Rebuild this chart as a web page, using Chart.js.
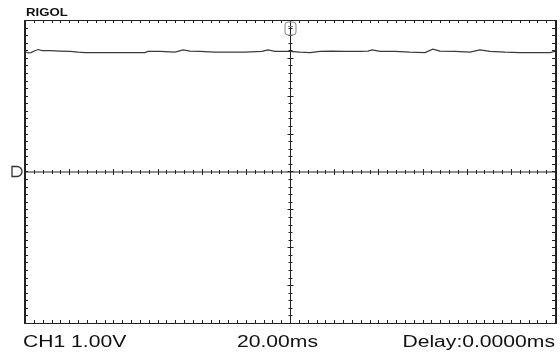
<!DOCTYPE html>
<html>
<head>
<meta charset="utf-8">
<script src="https://cdn.jsdelivr.net/npm/chart.js@4"></script>
<style>
  body { margin: 0; background: #fff; }
</style>
</head>
<body>
<canvas id="scope" width="560" height="359"></canvas>
<script>
// Trace: time in ms, voltage in V
const times = [-120, -118.6, -117.3, -115.5, -114.1, -112.3, -108.7, -104.1, -99.6, -96, -92.8, -86, -79.2, -72.4, -65.7, -64.3, -58.9, -52.1, -48.4, -45.3, -40.8, -34, -27.2, -20.4, -12.7, -10, -6.8, 0, 4.5, 9.1, 13.6, 19, 24.9, 31.7, 35.3, 37.1, 40.8, 47.5, 54.3, 61.1, 64.7, 67.9, 74.7, 81.5, 86, 90.6, 97.4, 104.1, 110.9, 117.7, 120];
const volts = [3.17, 3.13, 3.14, 3.19, 3.22, 3.19, 3.19, 3.18, 3.17, 3.15, 3.14, 3.14, 3.14, 3.14, 3.14, 3.17, 3.17, 3.15, 3.21, 3.18, 3.17, 3.15, 3.15, 3.15, 3.17, 3.21, 3.17, 3.17, 3.15, 3.14, 3.17, 3.18, 3.17, 3.17, 3.18, 3.21, 3.17, 3.17, 3.15, 3.14, 3.23, 3.18, 3.17, 3.15, 3.21, 3.17, 3.15, 3.14, 3.14, 3.14, 3.17];

// Screen: 12 x 8 divisions, 20ms/div and 1V/div
const timeRange = [-120, 120];
const voltRange = [-4, 4];
const minorTime = 4;   // 1/5 division
const minorVolt = 0.2;

// Labels on the scope screen
const brand = 'RIGOL';
const chLabel = 'CH1 1.00V';
const timebaseLabel = '20.00ms';
const delayLabel = 'Delay:0.0000ms';

let points = times.map((t, i) => ({ x: t, y: volts[i] }));

// draws text stretched sideways like the screenshot
let wideText = (ctx, text, x, y, align) => {
    const sx = 1.32;
    ctx.save();
    ctx.translate(x, y);
    ctx.scale(sx, 1);
    ctx.textAlign = align;
    ctx.fillText(text, 0, 0);
    ctx.restore();
};

const scopeScreen = {
    id: 'scopeScreen',
    beforeDatasetsDraw(chart) {
        const ctx = chart.ctx;
        const a = chart.chartArea;
        const xs = chart.scales.x;
        const ys = chart.scales.y;
        const x0 = xs.getPixelForValue(0);
        const y0 = ys.getPixelForValue(0);

        ctx.save();
        ctx.strokeStyle = '#222';
        ctx.lineWidth = 1;

        // center cross
        ctx.beginPath();
        ctx.moveTo(a.left, y0 + 0.5);
        ctx.lineTo(a.right, y0 + 0.5);
        ctx.moveTo(x0 + 0.5, a.top);
        ctx.lineTo(x0 + 0.5, a.bottom);
        ctx.stroke();

        // ticks along the border and the cross
        ctx.beginPath();
        for (let t = timeRange[0] + minorTime; t < timeRange[1]; t += minorTime) {
            const px = Math.round(xs.getPixelForValue(t)) + 0.5;
            const major = Math.abs(t % 20) < 0.01;
            ctx.moveTo(px, a.top);
            ctx.lineTo(px, a.top + 3);
            ctx.moveTo(px, a.bottom);
            ctx.lineTo(px, a.bottom - 3);
            const h = major ? 3 : 2;
            ctx.moveTo(px, y0 - h + 0.5);
            ctx.lineTo(px, y0 + h + 0.5);
        }
        for (let v = voltRange[0] + minorVolt; v < voltRange[1] - 0.01; v += minorVolt) {
            const py = Math.round(ys.getPixelForValue(v)) + 0.5;
            const major = Math.abs(Math.round(v * 5) % 5) === 0;
            ctx.moveTo(a.left, py);
            ctx.lineTo(a.left + 3, py);
            ctx.moveTo(a.right, py);
            ctx.lineTo(a.right - 3, py);
            const w = major ? 3 : 2;
            ctx.moveTo(x0 - w + 0.5, py);
            ctx.lineTo(x0 + w + 0.5, py);
        }
        ctx.stroke();

        // frame, thicker on the sides
        ctx.lineWidth = 1;
        ctx.strokeRect(a.left + 0.5, a.top + 0.5, a.right - a.left, a.bottom - a.top);
        ctx.lineWidth = 2;
        ctx.beginPath();
        ctx.moveTo(a.left, a.top);
        ctx.lineTo(a.left, a.bottom + 1);
        ctx.moveTo(a.right + 1, a.top);
        ctx.lineTo(a.right + 1, a.bottom + 1);
        ctx.stroke();
        ctx.restore();
    },
    afterDraw(chart) {
        const ctx = chart.ctx;
        const a = chart.chartArea;
        const xs = chart.scales.x;
        const ys = chart.scales.y;
        const x0 = xs.getPixelForValue(0);
        const y0 = ys.getPixelForValue(0);

        ctx.save();
        // trigger position marker at the top
        ctx.strokeStyle = '#888';
        ctx.lineWidth = 1;
        ctx.beginPath();
        ctx.roundRect(x0 - 5, a.top + 2, 11, 13, 3);
        ctx.stroke();
        ctx.beginPath();
        ctx.moveTo(x0 - 2, a.top + 6.5);
        ctx.lineTo(x0 + 3, a.top + 6.5);
        ctx.stroke();

        // channel ground marker on the left
        ctx.strokeStyle = '#333';
        ctx.lineWidth = 1.3;
        ctx.beginPath();
        ctx.moveTo(12, y0 - 5);
        ctx.lineTo(17, y0 - 5);
        ctx.arc(17, y0, 5, -Math.PI / 2, Math.PI / 2);
        ctx.lineTo(12, y0 + 5);
        ctx.closePath();
        ctx.stroke();

        // texts
        ctx.fillStyle = '#111';
        ctx.textBaseline = 'alphabetic';
        ctx.font = 'bold 10px "Liberation Sans", Arial, sans-serif';
        wideText(ctx, brand, 26, 16, 'left');
        ctx.font = '16px "Liberation Sans", Arial, sans-serif';
        wideText(ctx, chLabel, 23, 347, 'left');
        wideText(ctx, timebaseLabel, 237, 347, 'left');
        wideText(ctx, delayLabel, 555, 347, 'right');
        ctx.restore();
    }
};

var context = document.getElementById('scope').getContext('2d');

var scope = new Chart(context, {
    type: 'line',
    data: {
        datasets: [{
            data: points,
            borderColor: '#3a3a3a',
            borderWidth: 1.2,
            pointRadius: 0,
            tension: 0
        }]
    },
    options: {
        responsive: false,
        animation: false,
        layout: { padding: { left: 25, top: 20, right: 5, bottom: 36 } },
        plugins: { legend: { display: false }, tooltip: { enabled: false } },
        scales: {
            x: { type: 'linear', min: timeRange[0], max: timeRange[1], display: false },
            y: { min: voltRange[0], max: voltRange[1], display: false }
        }
    },
    plugins: [scopeScreen]
});
</script>
</body>
</html>
